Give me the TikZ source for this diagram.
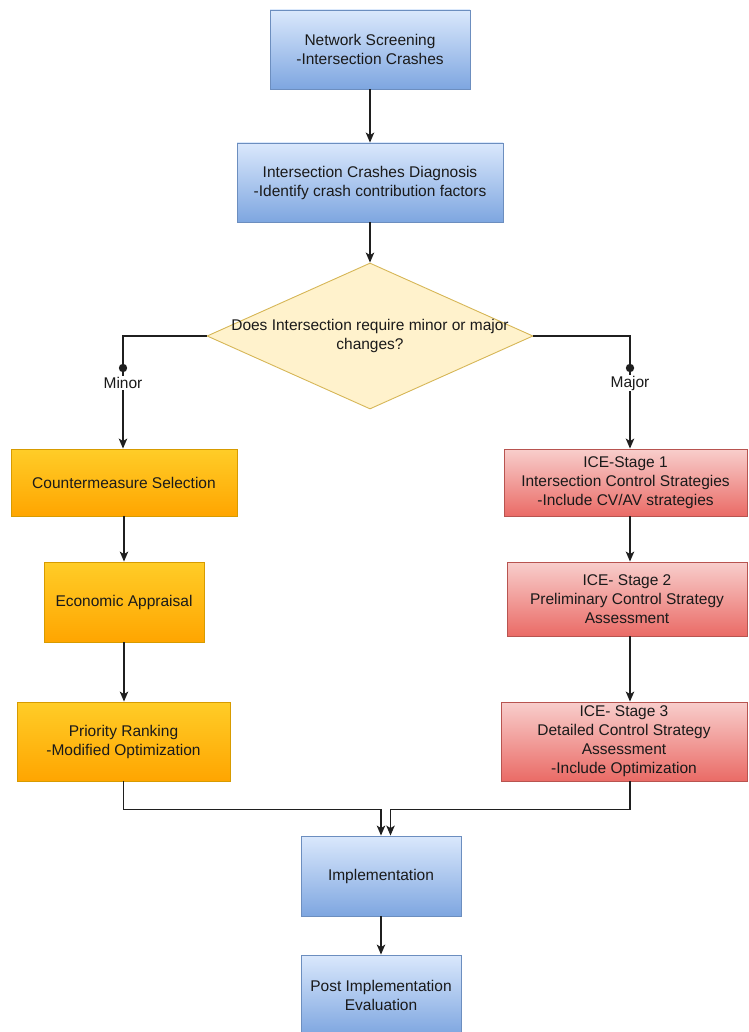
\documentclass[tikz,border=0pt]{standalone}
\usepackage{fontspec}
\setmainfont{Liberation Sans}
\usetikzlibrary{arrows.meta,shapes.geometric,calc}
\definecolor{bluetop}{HTML}{DAE8FC}
\definecolor{bluebot}{HTML}{7EA6E0}
\definecolor{blueline}{HTML}{6C8EBF}
\definecolor{ortop}{HTML}{FFCD28}
\definecolor{orbot}{HTML}{FFA500}
\definecolor{orline}{HTML}{D79B00}
\definecolor{redtop}{HTML}{F8CECC}
\definecolor{redbot}{HTML}{EA6B66}
\definecolor{redline}{HTML}{B85450}
\definecolor{yelfill}{HTML}{FFF2CC}
\definecolor{yelline}{HTML}{D6B656}
\definecolor{txt}{HTML}{1A1A1A}
\definecolor{edge}{HTML}{1F1F1F}
\begin{document}
\begin{tikzpicture}[x=1pt,y=-1pt,
  every node/.style={font=\fontsize{15.5}{19}\selectfont, text=txt},
  boxbase/.style={rectangle, inner sep=0pt, align=center, line width=0.9pt},
  bluebox/.style={boxbase, top color=bluetop, bottom color=bluebot, draw=blueline},
  orbox/.style={boxbase, top color=ortop, bottom color=orbot, draw=orline},
  redbox/.style={boxbase, top color=redtop, bottom color=redbot, draw=redline},
  decbox/.style={diamond, inner sep=0pt, fill=yelfill, draw=yelline, line width=0.9pt},
  arr/.style={draw=edge, line width=1.2pt, -{Stealth[length=10pt,width=8.5pt,inset=2.5pt]}},
  lbl/.style={fill=white, inner sep=1pt},
]
\useasboundingbox (0,0) rectangle (748,1032);

\node[bluebox, minimum width=200, minimum height=79] (ns) at (370,49.5)
  {Network Screening\\-Intersection Crashes};
\node[bluebox, minimum width=266, minimum height=79] (diag) at (370,182.5)
  {Intersection Crashes Diagnosis\\-Identify crash contribution factors};
\node[decbox, minimum width=326, minimum height=146] (dec) at (370,336) {};
\node[align=center] (dect) at (dec.center) {Does Intersection require minor or major\\changes?};

\node[orbox, minimum width=226, minimum height=67] (cs) at (124,482.5) {Countermeasure Selection};
\node[orbox, minimum width=160, minimum height=80] (ea) at (124,602) {Economic Appraisal};
\node[orbox, minimum width=213, minimum height=79] (pr) at (123.5,741.5) {Priority Ranking\\-Modified Optimization};

\node[redbox, minimum width=243, minimum height=67] (ice1) at (625.5,482.5)
  {ICE-Stage 1\\Intersection Control Strategies\\-Include CV/AV strategies};
\node[redbox, minimum width=240, minimum height=74] (ice2) at (627,599)
  {ICE- Stage 2\\Preliminary Control Strategy\\Assessment};
\node[redbox, minimum width=246, minimum height=79] (ice3) at (624,741.5)
  {ICE- Stage 3\\Detailed Control Strategy\\Assessment\\-Include Optimization};

\node[bluebox, minimum width=160, minimum height=80] (impl) at (381,876) {Implementation};
\node[bluebox, minimum width=160, minimum height=80] (post) at (381,995)
  {Post Implementation\\Evaluation};

% connectors
\draw[arr] (ns.south) -- (diag.north);
\draw[arr] (diag.south) -- (dec.north);

\coordinate (mnd) at (123,368);
\coordinate (mjd) at (630,368);
\draw[arr] (dec.west) -| ([xshift=-1]cs.north);
\draw[arr] (dec.east) -| ([xshift=4.5]ice1.north);
\fill[edge] (mnd) circle (4.2pt);
\fill[edge] (mjd) circle (4.2pt);
\node[lbl] (minor) at (123,383) {Minor};
\node[lbl] (major) at (630,383) {Major};

\draw[arr] (cs.south) -- (ea.north);
\draw[arr] (ea.south) -- ([xshift=0.5]pr.north);
\draw[arr] ([xshift=4.5]ice1.south) -- ([xshift=3]ice2.north);
\draw[arr] ([xshift=3]ice2.south) -- ([xshift=6]ice3.north);

\draw[arr] (pr.south) -- ++(0,28) -| (impl.north);
\draw[arr] ([xshift=6]ice3.south) -- ++(0,28) -| ([xshift=9.5]impl.north);
\draw[arr] (impl.south) -- (post.north);
\end{tikzpicture}
\end{document}
